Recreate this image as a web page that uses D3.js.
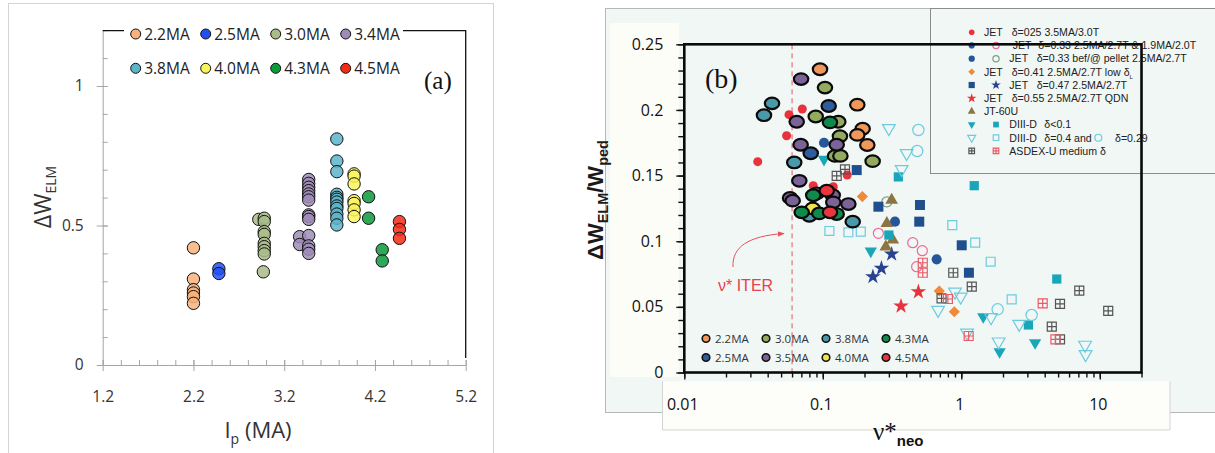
<!DOCTYPE html>
<html>
<head>
<meta charset="utf-8">
<script src="https://cdn.jsdelivr.net/npm/d3@7"></script>
<style>
  body { margin: 0; background: #fff; }
  svg { display: block; }
</style>
</head>
<body>
<div id="chart"></div>
<script>
// ---------- PANEL (a) DATA: [Ip (MA), dW_ELM] ----------
const a22 = [[2.2,0.42],[2.2,0.308],[2.2,0.27],[2.2,0.258],[2.2,0.245],[2.2,0.221]]
const a25 = [[2.48,0.345],[2.48,0.328]]
const a30 = [[2.92,0.522],[2.98,0.526],[2.98,0.514],[2.98,0.478],[2.98,0.468],[2.98,0.436],
             [2.98,0.424],[2.98,0.41],[2.98,0.398],[2.97,0.334]]
const a34 = [[3.47,0.665],[3.47,0.651],[3.47,0.637],[3.47,0.625],[3.47,0.613],[3.47,0.603],
             [3.47,0.591],[3.47,0.538],[3.47,0.532],[3.47,0.522],[3.37,0.46],[3.37,0.432],
             [3.47,0.464],[3.47,0.427],[3.47,0.415],[3.47,0.40]]
const a38 = [[3.78,0.81],[3.78,0.731],[3.78,0.693],[3.78,0.612],[3.78,0.601],[3.78,0.594],
             [3.78,0.584],[3.78,0.57],[3.78,0.561],[3.78,0.541],[3.78,0.526],[3.78,0.502]]
const a40 = [[3.97,0.685],[3.97,0.677],[3.97,0.649],[3.97,0.589],[3.97,0.579],[3.97,0.556],[3.97,0.532]]
const a43 = [[4.13,0.603],[4.13,0.526],[4.28,0.413],[4.28,0.373]]
const a45 = [[4.47,0.514],[4.47,0.486],[4.47,0.454]]

const aLabels = ['2.2MA','2.5MA','3.0MA','3.4MA','3.8MA','4.0MA','4.3MA','4.5MA']
const aColors = ['#f9b27c','#2150f0','#a9bc88','#9e8cb6','#5cb4c9','#faf45c','#0a9a3c','#f42a16']
const aSeries = [a22, a25, a30, a34, a38, a40, a43, a45]

const ipTicks = [1.2, 2.2, 3.2, 4.2, 5.2]
const dwTicks = [0, 0.5, 1]

// ---------- PANEL (b) DATA: [nu*_neo, dW_ELM/W_ped] ----------
const b22 = [[0.0955,0.231],[0.1775,0.204],[0.194,0.1857],[0.1775,0.181],[0.2096,0.1733]]
const b25 = [[0.1103,0.203],[0.0818,0.167]]
const b30 = [[0.1037,0.217],[0.0889,0.195],[0.1294,0.191],[0.133,0.180],[0.1225,0.165],
             [0.134,0.165],[0.229,0.161]]
const b38 = [[0.043,0.205],[0.0376,0.196],[0.0622,0.160],[0.0799,0.1194],[0.1645,0.1149]]
const b35 = [[0.058,0.133],[0.0697,0.2235],[0.0648,0.191],[0.0692,0.1735],[0.126,0.1735],
             [0.0677,0.146],[0.0904,0.1365],[0.1179,0.135],[0.0606,0.1309],[0.119,0.1296],[0.153,0.1283]]
const b40 = [[0.0845,0.125]]
const b43 = [[0.1127,0.1905],[0.0853,0.135],[0.0704,0.122],[0.0943,0.1212],[0.126,0.1207]]
const b45 = [[0.1068,0.1385],[0.1127,0.122]]

const bOrder  = [b22, b30, b25, b38, b35, b40, b43, b45]
const bColors = ['#f0975c','#93ab5e','#2e5c9c','#4a99aa','#7b6297','#f2e44c','#0f8a4c','#e8353e']

const jet025  = [[0.057,0.1964],[0.0711,0.2007],[0.0548,0.1803],[0.0339,0.1606],[0.150,0.1504],
                 [0.0853,0.1423],[0.119,0.1415]]
const jet033  = [[0.102,0.175],[0.332,0.1149],[0.664,0.0862]]
const jet033h = [[0.252,0.106],[0.446,0.0989],[0.523,0.0928],[0.476,0.0806]]
const jet033p = [[0.29,0.130]]
const jet041  = [[0.193,0.134],[0.693,0.0621],[0.89,0.0463]]
const jet047s = [[0.1757,0.1542],[0.252,0.1263],[0.503,0.1276],[0.497,0.1149],[1.007,0.0969],[1.135,0.076]]
const jet047t = [[0.23,0.073],[0.265,0.0794],[0.314,0.0902]]
const jet055  = [[0.367,0.0506],[0.49,0.0615]]
const jt60u   = [[0.314,0.1314],[0.29,0.1136],[0.32,0.101],[0.285,0.0958]]
const d3dLowT = [[0.102,0.1624],[0.222,0.0925],[1.44,0.0425],[1.89,0.0158],[3.41,0.0227]]
const d3dLowS = [[0.351,0.149],[0.30,0.1047],[1.24,0.1423],[3.05,0.0362],[4.89,0.0712]]
const d3dHiT  = [[0.30,0.186],[0.403,0.167],[0.371,0.1548],[0.9,0.0615],[0.99,0.0577],[0.68,0.0476],
                 [1.64,0.042],[1.10,0.0303],[1.86,0.0235],[2.62,0.0369],[7.83,0.021],[7.9,0.0139]]
const d3dHiS  = [[0.1116,0.1078],[0.153,0.1068],[0.188,0.1073],[0.861,0.1123],[1.26,0.0989],
                 [1.63,0.0844],[2.31,0.0557]]
const d3dCirc = [[0.49,0.1847],[0.48,0.1687],[1.83,0.0481],[3.22,0.0438]]
const augGray = [[0.1446,0.1548],[0.126,0.1497],[0.875,0.076],[1.19,0.0654],[0.72,0.0565],
                 [4.5,0.0349],[5.16,0.0522],[5.16,0.0253],[7.11,0.0623],[11.5,0.047]]
const augRed  = [[0.527,0.0836],[0.527,0.076],[0.80,0.056],[1.13,0.0278],[3.87,0.0527],[4.78,0.0253]]

const nuTicks = [0.01, 0.1, 1, 10]
const ratioTicks = [0, 0.05, 0.1, 0.15, 0.2, 0.25]
const nuIter = 0.06

const bLegTop = ['2.2MA','3.0MA','3.8MA','4.3MA']
const bLegBot = ['2.5MA','3.5MA','4.0MA','4.5MA']
const bLegTopCol = ['#f0975c','#93ab5e','#4a99aa','#0f8a4c']
const bLegBotCol = ['#2e5c9c','#7b6297','#f2e44c','#e8353e']

// ---------- SVG ----------
const svg = d3.select('#chart').append('svg')
              .attr('width', 1215)
              .attr('height', 453)
              .style('font-family', 'Open Sans')

// ================= PANEL (a) =================
svg.append('rect').attr('x', 8.5).attr('y', 3.5).attr('width', 485).attr('height', 470)
   .attr('fill', '#fff').attr('stroke', '#d4d4d4')

const xA = d3.scaleLinear().domain([1.2, 5.2]).range([102.7, 465.7])
const yA = d3.scaleLinear().domain([0, 1.2]).range([365, 30.2])

// minor ticks (inside)
svg.append('g').attr('transform', `translate(0,${yA(0)})`)
   .call(d3.axisBottom(xA).ticks(20).tickSize(-5).tickSizeOuter(0).tickFormat(''))
   .call(g => g.select('.domain').remove())
svg.append('g').attr('transform', `translate(${xA(1.2)},0)`)
   .call(d3.axisLeft(yA).ticks(12).tickSize(-5).tickSizeOuter(0).tickFormat(''))
   .call(g => g.select('.domain').remove())

const gxA = svg.append('g').attr('transform', `translate(0,${yA(0)})`)
   .call(d3.axisBottom(xA).tickValues(ipTicks).tickSize(6).tickSizeOuter(0)
           .tickPadding(20).tickFormat(d3.format('.1f')))
gxA.selectAll('.tick line').attr('y1', -5)
const gyA = svg.append('g').attr('transform', `translate(${xA(1.2)},0)`)
   .call(d3.axisLeft(yA).tickValues(dwTicks).tickSize(6).tickSizeOuter(0)
           .tickPadding(13).tickFormat(d3.format('~g')))
gyA.selectAll('.tick line').attr('x1', 5)

svg.selectAll('.tick line').attr('stroke', '#a6a6a6')
svg.selectAll('.domain').attr('stroke', '#a6a6a6')
;[gxA, gyA].forEach(g => g.selectAll('text')
   .attr('font-family', 'Open Sans').attr('font-size', 15.5).attr('fill', '#333'))

// top / right border
svg.append('path')
   .attr('d', `M${xA(1.2)},${yA(1.2) + 0.5}H${xA(5.2)}V${yA(0) - 7}`)
   .attr('fill', 'none').attr('stroke', '#111').attr('stroke-width', 1.3)

// points
aSeries.forEach((s, i) => {
    svg.append('g').selectAll('circle').data(s).enter()
       .append('circle')
       .attr('cx', d => xA(d[0]))
       .attr('cy', d => yA(d[1]))
       .attr('r', 6.2)
       .attr('fill', aColors[i])
       .attr('fill-opacity', 0.85)
       .attr('stroke', '#111')
       .attr('stroke-width', 1)
})

// legend (a)
svg.append('rect').attr('x', 124).attr('y', 20).attr('width', 279).attr('height', 60).attr('fill', '#fff')
aLabels.forEach((lab, i) => {
    const cx = 135.7 + (i % 4) * 70
    const cy = i < 4 ? 34 : 68.3
    svg.append('circle').attr('cx', cx).attr('cy', cy).attr('r', 5)
       .attr('fill', aColors[i]).attr('stroke', '#111').attr('stroke-width', 1)
    svg.append('text').attr('x', cx + 8.5).attr('y', cy).attr('dy', '0.36em')
       .attr('font-size', 15.5).attr('fill', '#222').text(lab)
})

svg.append('text').attr('x', 424).attr('y', 89).attr('font-family', 'Liberation Serif')
   .attr('font-size', 25).attr('fill', '#111').text('(a)')

// axis titles (a)
const tyA = svg.append('text').attr('transform', 'translate(51,197) rotate(-90)')
   .attr('text-anchor', 'middle').attr('font-size', 23).attr('fill', '#333')
tyA.append('tspan').text('ΔW')
tyA.append('tspan').attr('font-size', 14).attr('dy', 5).text('ELM')

const txA = svg.append('text').attr('x', 258).attr('y', 438)
   .attr('text-anchor', 'middle').attr('font-size', 22).attr('fill', '#333')
txA.append('tspan').text('I')
txA.append('tspan').attr('font-size', 14).attr('dy', 6).text('p')
txA.append('tspan').attr('dy', -6).text(' (MA)')

// ================= PANEL (b) =================
const mint = '#f1f7f4'
svg.append('rect').attr('x', 605.5).attr('y', 8.5).attr('width', 620).attr('height', 404)
   .attr('fill', mint).attr('stroke', '#b4b8b6')
svg.append('rect').attr('x', 610).attr('y', 23).attr('width', 69).attr('height', 354).attr('fill', '#fdfdf8')
svg.append('rect').attr('x', 662.5).attr('y', 381.5).attr('width', 507.5).attr('height', 48.5)
   .attr('fill', '#fdfdf9')
svg.append('path').attr('d', 'M662.5,381.5V430H1170V381.5')
   .attr('fill', 'none').attr('stroke', '#d2d4d2')

const xB = d3.scaleLog().domain([0.01, 20]).range([684.3, 1141.5])
const yB = d3.scaleLinear().domain([0, 0.25]).range([372.5, 44.3])

// legend box (b)
svg.append('rect').attr('x', 930.5).attr('y', 8.5).attr('width', 300).attr('height', 165)
   .attr('fill', mint).attr('stroke', '#8a8d8b')

// axes (b)
const gxBm = svg.append('g').attr('transform', `translate(0,${yB(0)})`)
   .call(d3.axisBottom(xB).tickValues(xB.ticks()).tickSize(5).tickSizeOuter(0).tickFormat(''))
const gxB = svg.append('g').attr('transform', `translate(0,${yB(0)})`)
   .call(d3.axisBottom(xB).tickValues(nuTicks).tickSize(7).tickSizeOuter(0)
           .tickPadding(19).tickFormat(d3.format('~g')))
const gyBm = svg.append('g').attr('transform', `translate(${xB(0.01)},0)`)
   .call(d3.axisLeft(yB).ticks(25).tickSize(6).tickSizeOuter(0).tickFormat(''))
const gyB = svg.append('g').attr('transform', `translate(${xB(0.01)},0)`)
   .call(d3.axisLeft(yB).tickValues(ratioTicks).tickSize(8).tickSizeOuter(0)
           .tickPadding(13).tickFormat(d3.format('~g')))
;[gxBm, gxB, gyBm, gyB].forEach(g => {
    g.select('.domain').remove()
    g.selectAll('.tick line').attr('stroke', '#111').attr('stroke-width', 1.4)
})
gxB.selectAll('text').attr('x', -2)
;[gxB, gyB].forEach(g => g.selectAll('text')
   .attr('font-family', 'Open Sans').attr('font-size', 16).attr('fill', '#111'))

// ITER line + label
svg.append('line').attr('x1', xB(nuIter)).attr('x2', xB(nuIter))
   .attr('y1', yB(0.25)).attr('y2', yB(0))
   .attr('stroke', '#e2566a').attr('stroke-width', 1).attr('stroke-dasharray', '5,4')
svg.append('defs').append('marker').attr('id', 'arr')
   .attr('viewBox', '0 0 10 10').attr('refX', 9).attr('refY', 5)
   .attr('markerWidth', 7).attr('markerHeight', 7).attr('orient', 'auto')
   .append('path').attr('d', 'M0,1L10,5L0,9Z').attr('fill', '#e8505c')
svg.append('path').attr('d', 'M733,267C732,247 748,236 784,233.5')
   .attr('fill', 'none').attr('stroke', '#e8505c').attr('stroke-width', 1)
   .attr('marker-end', 'url(#arr)')
svg.append('text').attr('x', 718).attr('y', 291).attr('font-family', 'Liberation Sans')
   .attr('font-size', 16).attr('fill', '#e8404c').text('ν* ITER')

// symbol helpers
const plusSquare = {
    draw(ctx, size) {
        const h = Math.sqrt(size) / 2
        ctx.moveTo(-h, -h); ctx.lineTo(h, -h); ctx.lineTo(h, h); ctx.lineTo(-h, h); ctx.closePath()
        ctx.moveTo(0, -h); ctx.lineTo(0, h)
        ctx.moveTo(-h, 0); ctx.lineTo(h, 0)
    }
}
const st = {
    jet025:  {t: d3.symbolCircle, s: 64, f: '#e8323c'},
    jet033:  {t: d3.symbolCircle, s: 80, f: '#24579a'},
    jet033h: {t: d3.symbolCircle, s: 80, f: 'none', k: '#ec6a9a'},
    jet033p: {t: d3.symbolCircle, s: 80, f: 'none', k: '#7f9e88'},
    jet041:  {t: d3.symbolSquare, s: 62, f: '#f0893a', rot: 45},
    jet047s: {t: d3.symbolSquare, s: 100, f: '#1f4f8e'},
    jet047t: {t: d3.symbolStar, s: 75, f: '#2a4190'},
    jet055:  {t: d3.symbolStar, s: 75, f: '#e8323c'},
    jt60u:   {t: d3.symbolTriangle, s: 70, f: '#8c7443'},
    d3dLowT: {t: d3.symbolTriangle, s: 65, f: '#1aa6b9', rot: 180},
    d3dLowS: {t: d3.symbolSquare, s: 85, f: '#1aa6b9'},
    d3dHiT:  {t: d3.symbolTriangle, s: 70, f: 'none', k: '#6ccbe0', rot: 180},
    d3dHiS:  {t: d3.symbolSquare, s: 80, f: 'none', k: '#6ccbe0'},
    d3dCirc: {t: d3.symbolCircle, s: 100, f: 'none', k: '#6ccbe0'},
    augGray: {t: plusSquare, s: 81, f: 'none', k: '#555'},
    augRed:  {t: plusSquare, s: 81, f: 'none', k: '#ec5a66'}
}
function drawSym(g, data, o, scale = 1) {
    g.selectAll(null).data(data).enter()
     .append('path')
     .attr('d', d3.symbol().type(o.t).size(o.s * scale * scale))
     .attr('transform', d => `translate(${d[0]},${d[1]})` + (o.rot ? ` rotate(${o.rot})` : ''))
     .attr('fill', o.f)
     .attr('stroke', o.k || 'none')
     .attr('stroke-width', o.k ? 1.2 : 0)
}
const toB = arr => arr.map(d => [xB(d[0]), yB(d[1])])

const gPts = svg.append('g')
const smallSets = {jet025, jet033, jet033h, jet033p, jet041, jet047s, jet047t, jet055, jt60u,
                   d3dLowT, d3dLowS, d3dHiT, d3dHiS, d3dCirc, augGray, augRed}
Object.keys(smallSets).forEach(k => drawSym(gPts, toB(smallSets[k]), st[k]))

// big current-coloured ellipses
bOrder.forEach((s, i) => {
    gPts.append('g').selectAll('ellipse').data(s).enter()
        .append('ellipse')
        .attr('cx', d => xB(d[0]))
        .attr('cy', d => yB(d[1]))
        .attr('rx', 7.2).attr('ry', 5.8)
        .attr('fill', bColors[i])
        .attr('stroke', '#0a0a0a').attr('stroke-width', 2.2)
})

// bottom-left legend (b)
;[[bLegTop, bLegTopCol, 338.5], [bLegBot, bLegBotCol, 357.5]].forEach(([labs, cols, y]) => {
    labs.forEach((lab, i) => {
        const cx = 706 + i * 60
        svg.append('circle').attr('cx', cx).attr('cy', y).attr('r', 3.8)
           .attr('fill', cols[i]).attr('stroke', '#111').attr('stroke-width', 1.6)
        svg.append('text').attr('x', cx + 9).attr('y', y).attr('dy', '0.36em')
           .attr('font-size', 11.5).attr('fill', '#333').text(lab)
    })
})

svg.append('text').attr('x', 705).attr('y', 88).attr('font-family', 'Liberation Serif')
   .attr('font-size', 28).attr('fill', '#111').text('(b)')

// upper-right legend (b)
const legRows = [
    {a: 'jet025', parts: [[984, 'JET'], [1011.7, 'δ=025 3.5MA/3.0T']]},
    {a: 'jet033', b: 'jet033h', parts: [[1012.7, 'JET'], [1038.3, 'δ=0.33 2.5MA/2.7T & 1.9MA/2.0T']]},
    {a: 'jet033', b: 'jet033p', parts: [[1009.3, 'JET'], [1036.7, 'δ=0.33 bef/@ pellet 2.5MA/2.7T']]},
    {a: 'jet041', parts: [[984, 'JET'], [1011.7, 'δ=0.41 2.5MA/2.7T low δ']], sub: 'L'},
    {a: 'jet047s', b: 'jet047t', parts: [[1009.3, 'JET'], [1036.7, 'δ=0.47 2.5MA/2.7T']]},
    {a: 'jet055', parts: [[984, 'JET'], [1011.7, 'δ=0.55 2.5MA/2.7T QDN']]},
    {a: 'jt60u', parts: [[984, 'JT-60U']]},
    {a: 'd3dLowT', b: 'd3dLowS', parts: [[1009.3, 'DIII-D'], [1044.3, 'δ<0.1']]},
    {a: 'd3dHiT', b: 'd3dHiS', c: 'd3dCirc', parts: [[1009.3, 'DIII-D'], [1044.3, 'δ=0.4 and'], [1115, 'δ=0.29']]},
    {a: 'augGray', b: 'augRed', parts: [[1009.3, 'ASDEX-U medium δ']]}
]
const gLeg = svg.append('g')
legRows.forEach((r, i) => {
    const y = 32.3 + i * 13.18
    drawSym(gLeg, [[971.7, y]], st[r.a], 0.62)
    if (r.b) drawSym(gLeg, [[996, y]], st[r.b], 0.62)
    if (r.c) drawSym(gLeg, [[1098.3, y]], st[r.c], 0.62)
    r.parts.forEach(([x, t], j) => {
        const tx = gLeg.append('text').attr('x', x).attr('y', y).attr('dy', '0.36em')
           .attr('font-family', 'Liberation Sans').attr('font-size', 10.6).attr('fill', '#222').text(t)
        if (r.sub && j === r.parts.length - 1)
            tx.append('tspan').attr('font-size', 6).attr('dy', 3).text(r.sub)
    })
})

// plot frame (b)
svg.append('rect').attr('x', xB(0.01)).attr('y', yB(0.25))
   .attr('width', xB(20) - xB(0.01)).attr('height', yB(0) - yB(0.25))
   .attr('fill', 'none').attr('stroke', '#0a0a0a').attr('stroke-width', 2.6)

// axis titles (b)
const tyB = svg.append('text').attr('transform', 'translate(603,200) rotate(-90)')
   .attr('text-anchor', 'middle').attr('font-family', 'Liberation Sans')
   .attr('font-weight', 'bold').attr('font-size', 22).attr('fill', '#1a1a1a')
tyB.append('tspan').text('ΔW')
tyB.append('tspan').attr('font-size', 14.5).attr('dy', 5).text('ELM')
tyB.append('tspan').attr('dy', -5).text('/W')
tyB.append('tspan').attr('font-size', 14.5).attr('dy', 5).text('ped')

const txB = svg.append('text').attr('x', 873).attr('y', 440).attr('fill', '#111')
txB.append('tspan').attr('font-family', 'Liberation Serif').attr('font-size', 25).text('ν*')
txB.append('tspan').attr('font-family', 'Liberation Sans').attr('font-weight', 'bold')
   .attr('font-size', 15).attr('dy', 6).text('neo')
</script>
</body>
</html>
